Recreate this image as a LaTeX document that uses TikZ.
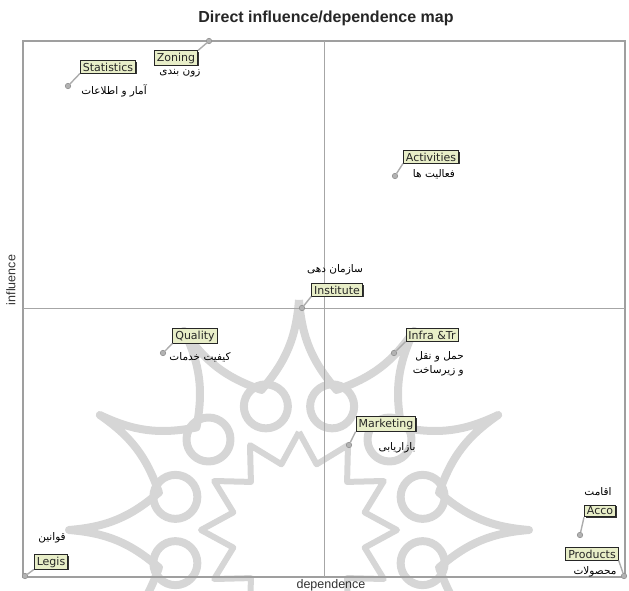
\documentclass[tikz,border=0pt]{standalone}
\usepackage{fontspec}
\setmainfont{Liberation Sans}
\newfontfamily\arabicfont[Script=Arabic]{DejaVu Sans}
\newfontfamily\boxfont{DejaVu Sans}
\TeXXeTstate=1
\usetikzlibrary{shadows}
\begin{document}
\begin{tikzpicture}[x=1pt,y=-1pt,
 lab/.style={draw=black!85, line width=0.9pt, fill={rgb,255:red,232;green,238;blue,200},
   inner xsep=2.5pt, inner ysep=1.8pt, font=\boxfont\fontsize{11}{12}\selectfont, text=black!85,
   drop shadow={shadow xshift=1.2pt, shadow yshift=-1.2pt, fill=black!80, opacity=1}},
 pt/.style={circle, fill=gray!60, draw=gray!85, line width=0.6pt, inner sep=0pt, minimum size=5.5pt},
 pin/.style={draw=gray!65, line width=1.4pt},
 fa/.style={font=\arabicfont\fontsize{10.5}{14}\selectfont, inner sep=0pt},
 wm/.style={draw=black!16, line width=8pt, line join=round},
 framel/.style={draw=gray!75, line width=1.6pt},
 axisl/.style={draw=gray!70, line width=1pt},
]
\useasboundingbox (0,0) rectangle (629,591);
% watermark
\begin{scope}
\clip (0,0) rectangle (629,591);
\begin{scope}[shift={(299,530)}]
\draw[wm] (-90:230) \foreach \i in {0,...,11} { to[bend right=18] (-75+30*\i:145) to[bend right=18] (-60+30*\i:230) };
\foreach \a in {15,45,...,345} \draw[wm] (\a:128) circle[radius=22];
\draw[wm, line width=6pt] (-90:98) \foreach \i in {0,...,11} { -- (-75+30*\i:68) -- (-60+30*\i:98) };
\end{scope}
\end{scope}
% title
\node[font=\bfseries\fontsize{16}{18}\selectfont, text=black!85] (title) at (326,18) {Direct influence/dependence map};
% frame and axes
\draw[framel] (23,41) rectangle (625,577);
\draw[axisl] (324,41) -- (324,577);
\draw[axisl] (23,308) -- (625,308);
\node[font=\fontsize{12.5}{14}\selectfont, text=black!80] (dep) at (331,585) {dependence};
\node[rotate=90, font=\fontsize{12.5}{14}\selectfont, text=black!80] (inf) at (11,280) {influence};
% points
\node[pt] (statp) at (68,86) {};
\node[pt] (zonp) at (209,41) {};
\node[pt] (actp) at (395,176) {};
\node[pt] (instp) at (302,308) {};
\node[pt] (qualp) at (163,353) {};
\node[pt] (infrap) at (394,353) {};
\node[pt] (markp) at (349,445) {};
\node[pt] (accop) at (580,535) {};
\node[pt] (prodp) at (624,576) {};
\node[pt] (legisp) at (25,576) {};
% labels
\node[lab] (stat) at (108,67) {Statistics};
\node[lab] (zon) at (176,58) {Zoning};
\node[lab] (act) at (431,157) {Activities};
\node[lab] (inst) at (337,290) {Institute};
\node[lab] (qual) at (195,336) {Quality};
\node[lab] (infra) at (432,335) {Infra \&Tr};
\node[lab] (mark) at (386,424) {Marketing};
\node[lab] (acco) at (600,511) {Acco};
\node[lab] (prod) at (592,554) {Products};
\node[lab] (legis) at (51,562) {Legis};
% pins
\draw[pin] (statp) -- (stat.south west);
\draw[pin] (zonp) -- (zon.north east);
\draw[pin] (actp) -- (act.south west);
\draw[pin] (instp) -- (inst.south west);
\draw[pin] (qualp) -- (qual.south west);
\draw[pin] (infrap) -- (infra.south west);
\draw[pin] (markp) -- (mark.south west);
\draw[pin] (accop) -- (acco.south west);
\draw[pin] (prodp) -- (prod.south east);
\draw[pin] (legisp) -- (legis.south west);
% persian texts
\node[fa] (statfa) at (114,91) {\beginR آمار و اطلاعات\endR};
\node[fa] (zonfa) at (180,73) {\beginR زون بندی\endR};
\node[fa] (actfa) at (434,174) {\beginR فعالیت ها\endR};
\node[fa] (instfa) at (335,270) {\beginR سازمان دهی\endR};
\node[fa] (qualfa) at (200,357) {\beginR کیفیت خدمات\endR};
\node[fa, align=right, anchor=east] (infrafa) at (464,364) {\beginR حمل و نقل\endR\\\beginR و زیرساخت\endR};
\node[fa] (markfa) at (397,448) {\beginR بازاریابی\endR};
\node[fa] (accofa) at (598,492) {\beginR اقامت\endR};
\node[fa] (prodfa) at (595,572) {\beginR محصولات\endR};
\node[fa] (legisfa) at (52,538) {\beginR قوانین\endR};
\end{tikzpicture}
\end{document}
